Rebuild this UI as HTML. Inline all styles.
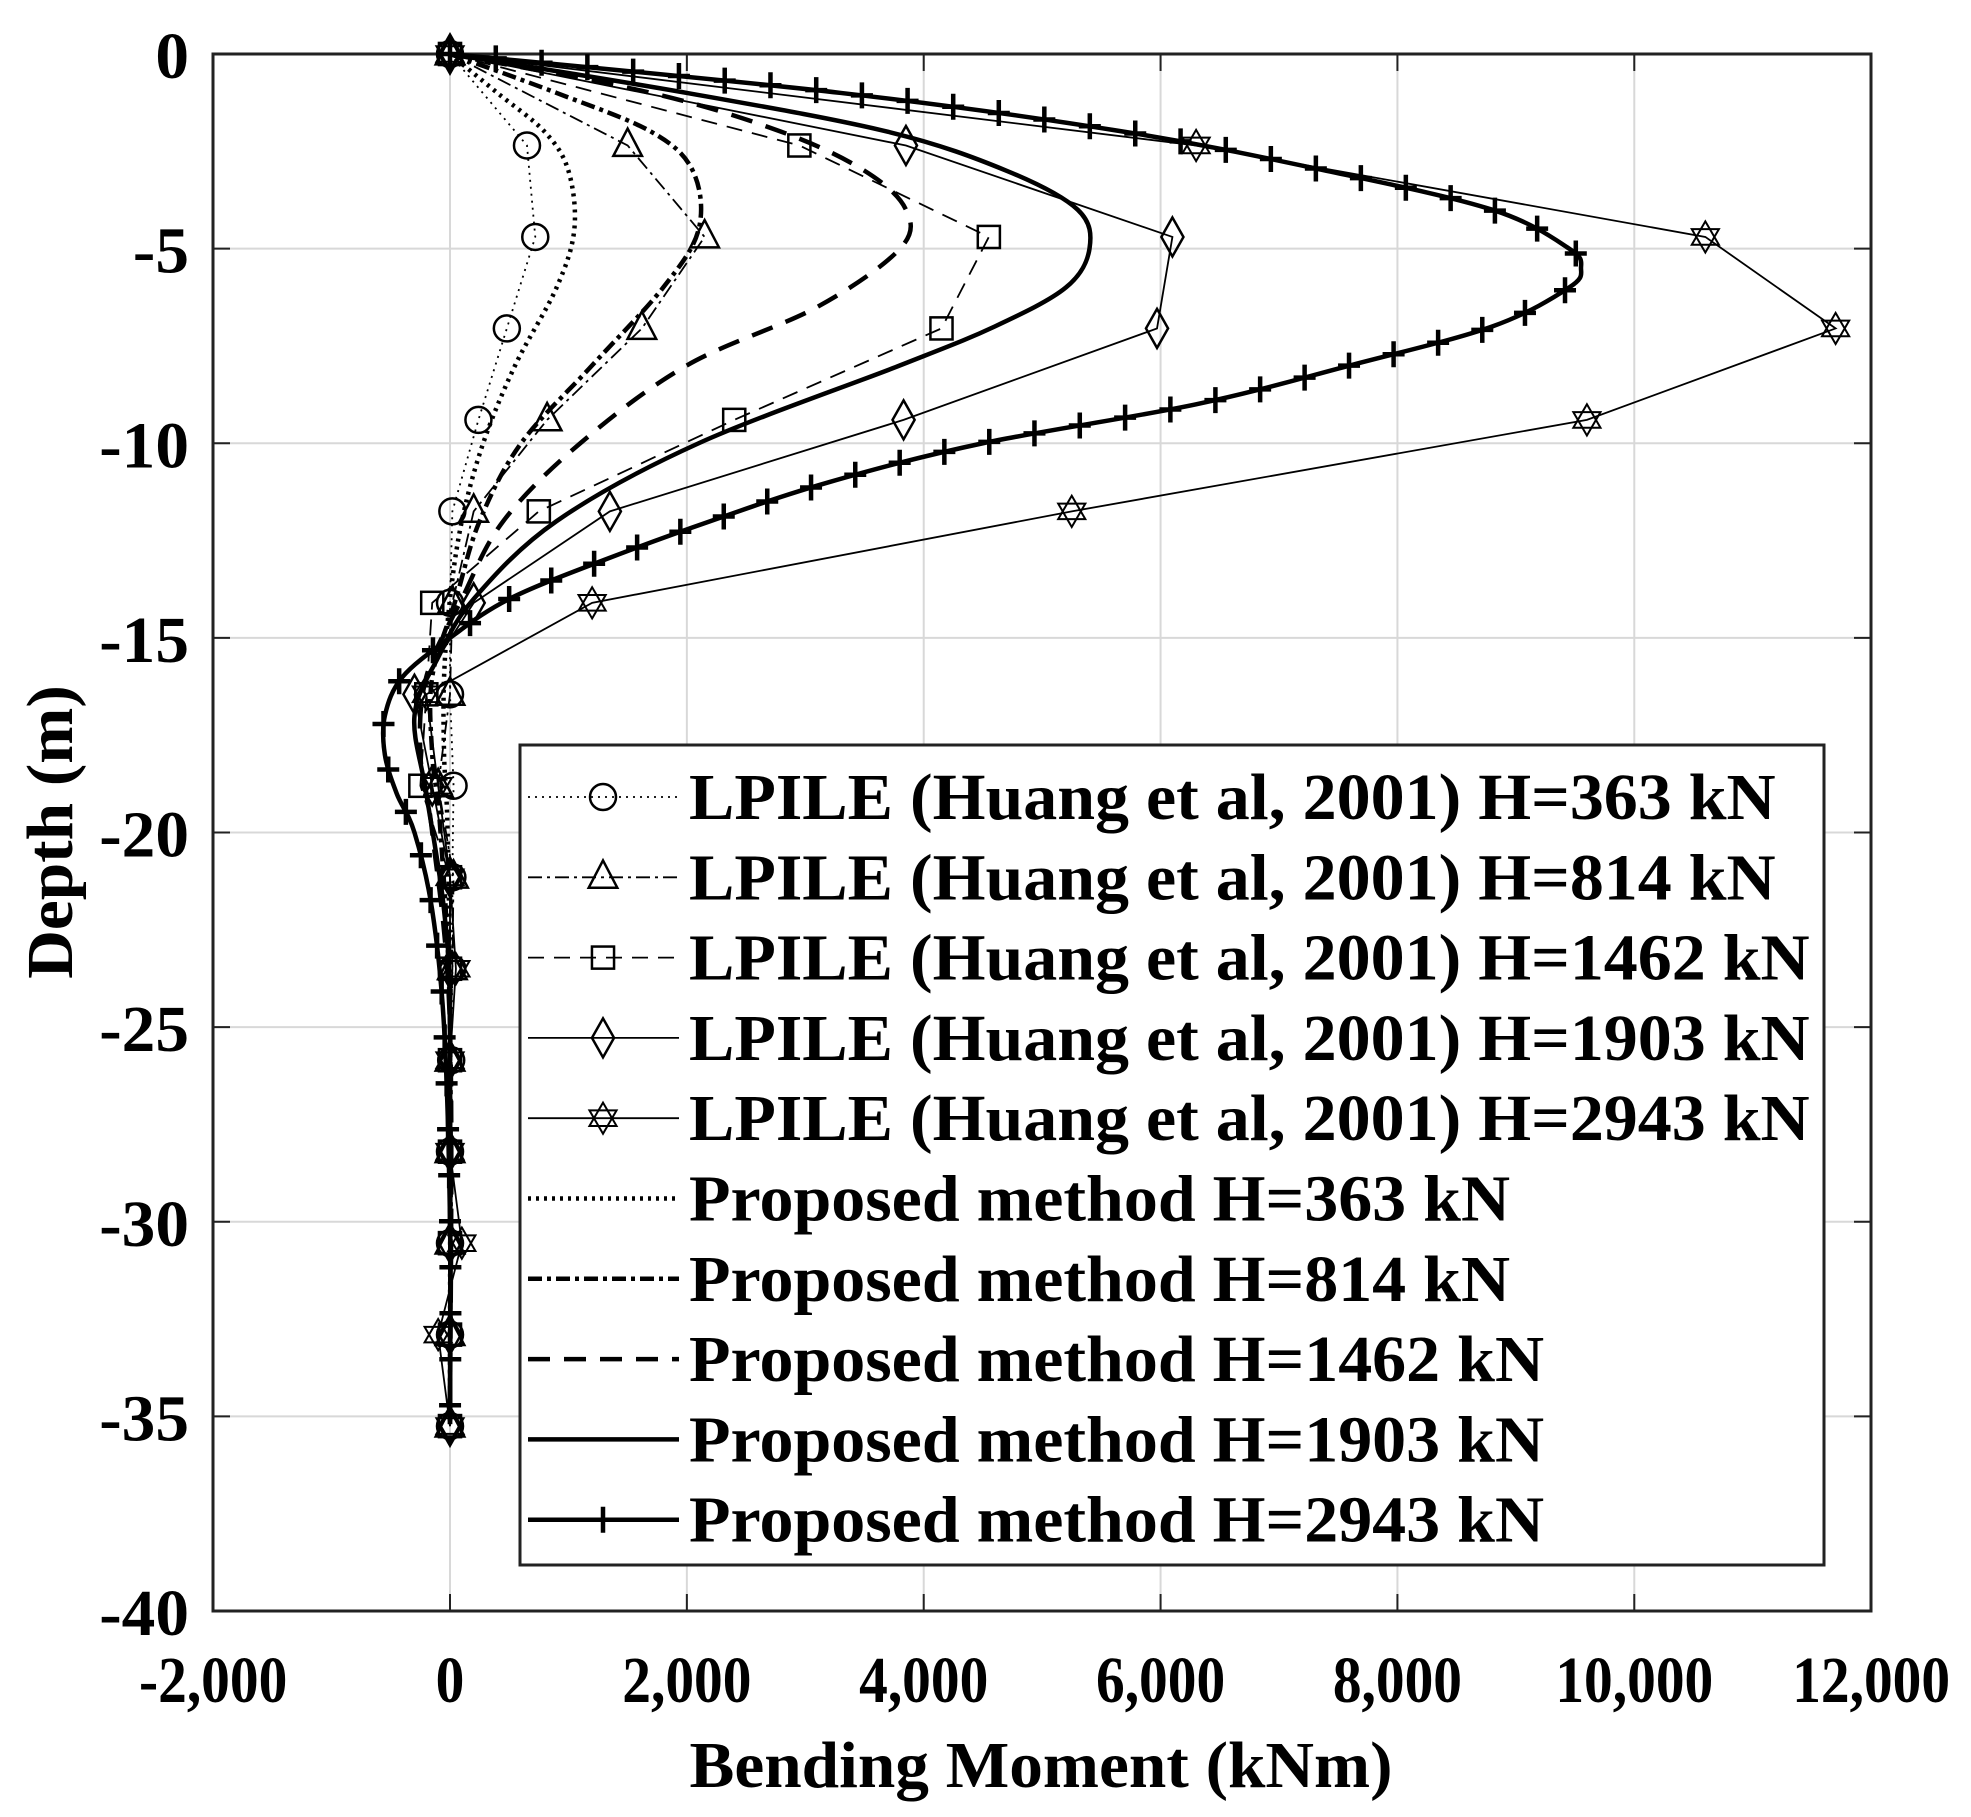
<!DOCTYPE html>
<html><head><meta charset="utf-8">
<style>body{margin:0;background:#fff}svg{display:block}text{font-family:"Liberation Serif",serif;font-weight:bold;fill:#000}</style>
</head><body>
<svg id="s" width="1971" height="1817" xmlns="http://www.w3.org/2000/svg"></svg>
<script>
const S=document.getElementById('s');let h='';
const L=213,R=1871,T=54,B=1611;
const X=v=>450+v*(R-L)/14000, Y=d=>T+d*(B-T)/40;
for(let v=-2000;v<=12000;v+=2000){const x=X(v);h+=`<line x1="${x}" y1="${T}" x2="${x}" y2="${B}" stroke="#d8d8d8" stroke-width="2"/>`;
 h+=`<line x1="${x}" y1="${B}" x2="${x}" y2="${B-17}" stroke="#222" stroke-width="2"/><line x1="${x}" y1="${T}" x2="${x}" y2="${T+17}" stroke="#222" stroke-width="2"/>`;
 h+=`<g transform="translate(${x},1702) scale(0.87,1)"><text x="0" y="0" font-size="66" text-anchor="middle">${v.toLocaleString('en-US')}</text></g>`;}
for(let d=0;d<=40;d+=5){const y=Y(d);h+=`<line x1="${L}" y1="${y}" x2="${R}" y2="${y}" stroke="#d8d8d8" stroke-width="2"/>`;
 h+=`<line x1="${L}" y1="${y}" x2="${L+17}" y2="${y}" stroke="#222" stroke-width="2"/><line x1="${R}" y1="${y}" x2="${R-17}" y2="${y}" stroke="#222" stroke-width="2"/>`;
 h+=`<g transform="translate(189,${y+24}) scale(1.02,1)"><text x="0" y="0" font-size="66" text-anchor="end">${d?'-'+d:'0'}</text></g>`;}
h+=`<rect x="${L}" y="${T}" width="${R-L}" height="${B-T}" fill="none" stroke="#222" stroke-width="3"/>`;
function mk(t,x,y){const s=13;
 if(t=='o')return `<circle cx="${x}" cy="${y}" r="${s}" fill="none" stroke="#000" stroke-width="2.5"/>`;
 if(t=='^')return `<polygon points="${x},${y-s*1.3} ${x+s*1.1},${y+s*0.8} ${x-s*1.1},${y+s*0.8}" fill="none" stroke="#000" stroke-width="2.5"/>`;
 if(t=='s')return `<rect x="${x-s*0.85}" y="${y-s*0.85}" width="${s*1.7}" height="${s*1.7}" fill="none" stroke="#000" stroke-width="2.5"/>`;
 if(t=='d')return `<polygon points="${x},${y-s*1.5} ${x+s*0.85},${y} ${x},${y+s*1.5} ${x-s*0.85},${y}" fill="none" stroke="#000" stroke-width="2.5"/>`;
 if(t=='h'){const a=s*1.2;return `<polygon points="${x},${y-a} ${x+a*0.87},${y+a*0.5} ${x-a*0.87},${y+a*0.5}" fill="none" stroke="#000" stroke-width="2"/><polygon points="${x},${y+a} ${x+a*0.87},${y-a*0.5} ${x-a*0.87},${y-a*0.5}" fill="none" stroke="#000" stroke-width="2"/>`;}
 if(t=='+')return `<path d="M${x-11} ${y}H${x+11}M${x} ${y-13}V${y+13}" stroke="#000" stroke-width="4.5"/>`;return '';}
const dz=[0,2.35,4.7,7.05,9.4,11.75,14.1,16.45,18.8,21.15,23.5,25.85,28.2,30.55,32.9,35.25];
const lp=[
 ['o','2,5',[0,650,720,480,240,20,0,0,30,20,20,10,0,0,0,0]],
 ['^','14,5,3,5',[0,1500,2150,1620,820,200,20,0,-100,30,20,0,0,0,0,0]],
 ['s','16,10',[0,2950,4550,4150,2400,750,-150,-200,-250,0,0,0,0,0,0,0]],
 ['d','',[0,3850,6100,5970,3830,1350,200,-300,-150,0,0,0,0,0,0,0]],
 ['h','',[0,6300,10600,11700,9600,5250,1200,-200,-100,0,50,0,0,100,-100,0]]];
for(const [m,da,vs] of lp){const p=vs.map((v,i)=>X(v)+','+Y(dz[i])).join(' ');
 h+=`<polyline points="${p}" fill="none" stroke="#000" stroke-width="1.8" ${da?'stroke-dasharray="'+da+'"':''}/>`;
 vs.forEach((v,i)=>h+=mk(m,X(v),Y(dz[i])));}
const pr=[
 ['3,5',[[0,0],[1,400],[2,800],[3,1000],[4.5,1050],[6,900],[8,550],[10,280],[12,100],[14,0],[16,-50],[18,-50],[20,-20],[25,0],[35.2,0]]],
 ['14,5,4,5',[[0,0],[1,900],[2,1700],[3,2050],[4.5,2100],[6,1800],[8,1200],[10,600],[12,250],[14,50],[16,-150],[18,-150],[20,-80],[25,0],[35.2,0]]],
 ['22,14',[[0,0],[1,1700],[2,2800],[3,3500],[4,3850],[5,3800],[6.5,3100],[8,2000],[10,1100],[12,450],[14,100],[16,-200],[18,-250],[20,-150],[25,0],[35.2,0]]],
 ['',[[0,0],[1,2000],[2,3700],[3,4700],[4,5300],[5,5400],[6,5200],[7,4600],[8,3800],[10,2100],[12,900],[14,200],[15.5,-100],[17,-300],[19,-200],[22,-50],[25,0],[35.2,0]]],
 ['+',[[0,0],[1,3300],[2,5700],[3,7400],[4,8800],[5,9450],[5.5,9550],[6,9450],[7,8800],[8,7600],[9,6300],[10,4500],[11,3200],[12,2200],[13,1300],[14,500],[15,0],[16,-400],[17,-550],[18,-550],[19,-450],[20,-300],[22,-150],[25,-50],[30,0],[35.2,0]]]];
for(const [da,pts] of pr){const P=pts.map(([d,v])=>[X(v),Y(d)]);
 let d='M'+P[0][0]+' '+P[0][1];
 for(let i=0;i<P.length-1;i++){const p0=P[i-1]||P[i],p1=P[i],p2=P[i+1],p3=P[i+2]||P[i+1];
  d+=` C${p1[0]+(p2[0]-p0[0])/6} ${p1[1]+(p2[1]-p0[1])/6} ${p2[0]-(p3[0]-p1[0])/6} ${p2[1]-(p3[1]-p1[1])/6} ${p2[0]} ${p2[1]}`;}
 h+=`<path d="${d}" fill="none" stroke="#000" stroke-width="4.5" ${da&&da!='+'?'stroke-dasharray="'+da+'"':''}/>`;
 if(da=='+'){window._p=d;}}
S.innerHTML=h;
const tmp=document.createElementNS('http://www.w3.org/2000/svg','path');tmp.setAttribute('d',window._p);S.appendChild(tmp);tmp.setAttribute('fill','none');tmp.setAttribute('stroke','none');
let extra='';const len=tmp.getTotalLength();for(let s=0;s<=len;s+=46){const q=tmp.getPointAtLength(s);extra+=mk('+',q.x,q.y);}
const lx=520,ly=745,lw=1304,lh=820;
extra+=`<rect x="${lx}" y="${ly}" width="${lw}" height="${lh}" fill="#fff" stroke="#222" stroke-width="3"/>`;
const leg=[['o','2,5',1.8,'LPILE (Huang et al, 2001) H=363 kN'],['^','14,5,3,5',1.8,'LPILE (Huang et al, 2001) H=814 kN'],['s','16,10',1.8,'LPILE (Huang et al, 2001) H=1462 kN'],['d','',1.8,'LPILE (Huang et al, 2001) H=1903 kN'],['h','',1.8,'LPILE (Huang et al, 2001) H=2943 kN'],
 ['','3,5',4.5,'Proposed method H=363 kN'],['','14,5,4,5',4.5,'Proposed method H=814 kN'],['','22,14',4.5,'Proposed method H=1462 kN'],['','',4.5,'Proposed method H=1903 kN'],['+','',4.5,'Proposed method H=2943 kN']];
leg.forEach(([m,da,w,t],i)=>{const y=797+i*80.3;
 extra+=`<line x1="528" y1="${y}" x2="679" y2="${y}" stroke="#000" stroke-width="${w}" ${da?'stroke-dasharray="'+da+'"':''}/>`+mk(m,603,y);
 extra+=`<g transform="translate(689,${y+22}) scale(1.03,1)"><text x="0" y="0" font-size="66">${t}</text></g>`;});
extra+=`<g transform="translate(1041,1787) scale(1.02,1)"><text x="0" y="0" font-size="66" text-anchor="middle">Bending Moment (kNm)</text></g>`;
extra+=`<g transform="translate(72,832) rotate(-90) scale(1.02,1)"><text x="0" y="0" font-size="66" text-anchor="middle">Depth (m)</text></g>`;
S.insertAdjacentHTML('beforeend',extra);
</script>
</body></html>
